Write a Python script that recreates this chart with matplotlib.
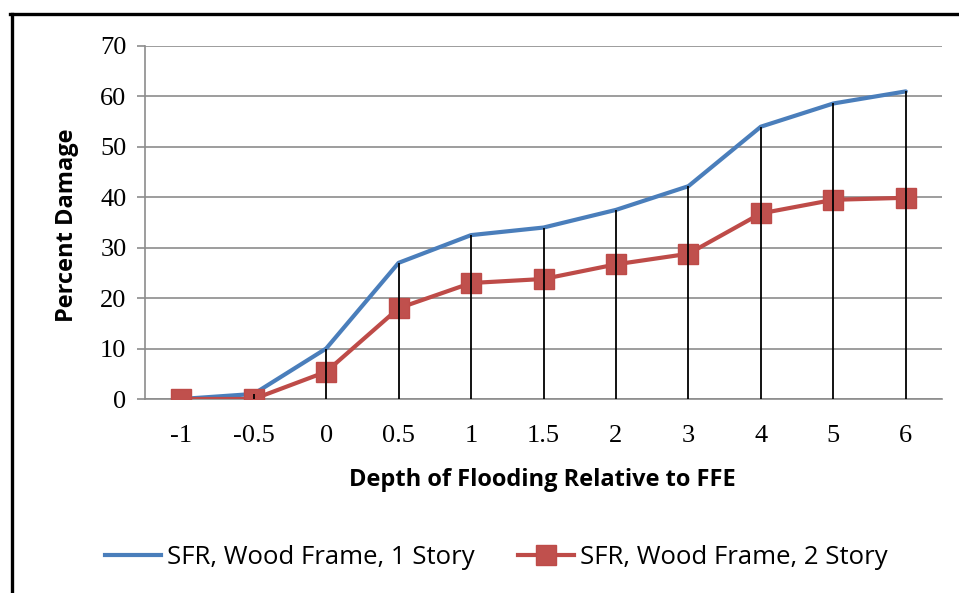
import matplotlib
matplotlib.use("Agg")
import matplotlib.pyplot as plt
from matplotlib.lines import Line2D
import numpy as np

categories = ["-1", "-0.5", "0", "0.5", "1", "1.5", "2", "3", "4", "5", "6"]
story1 = [0, 1, 10, 27, 32.5, 34, 37.5, 42.2, 54, 58.6, 61]
story2 = [0, 0, 5.4, 18, 23, 23.8, 26.7, 28.8, 36.8, 39.5, 39.9]
series_names = ["SFR, Wood Frame, 1 Story", "SFR, Wood Frame, 2 Story"]
yticks = [0, 10, 20, 30, 40, 50, 60, 70]

W, H = 959, 593
fig = plt.figure(figsize=(W / 100, H / 100), dpi=100)
ax = fig.add_axes([145 / W, 1 - 399 / H, (942 - 145) / W, (399 - 46) / H])

x = np.arange(len(categories))
ax.plot(x, story1, color="#4a7ebb", lw=3, solid_capstyle="round", zorder=3)
ax.plot(x, story2, color="#be4b48", lw=3, marker="s", ms=14.5, mec="#be4b48",
        mfc="#c0504d", zorder=3)
ax.vlines(x, 0, np.maximum(story1, story2), colors="black", lw=1.3, zorder=4)

ax.set_xlim(-0.5, len(categories) - 0.5)
ax.set_ylim(0, 70)
ax.set_yticks(yticks)
ax.set_xticks(x)
ax.set_xticklabels(categories)
ax.grid(axis="y", color="#8c8c8c", lw=1.2, zorder=0)
ax.set_axisbelow(True)
for s in ["top", "right"]:
    ax.spines[s].set_visible(False)
ax.spines["left"].set_color("#8c8c8c")
ax.spines["bottom"].set_color("#8c8c8c")
ax.spines["left"].set_linewidth(1.2)
ax.spines["bottom"].set_linewidth(1.2)
ax.tick_params(axis="y", length=5.8, color="#8c8c8c", width=1.2, pad=7.5)
ax.tick_params(axis="x", length=0, pad=19)
for lab in ax.get_yticklabels() + ax.get_xticklabels():
    lab.set_fontfamily("Liberation Serif")
    lab.set_fontsize(19)

fig.text(67 / W, 1 - 225 / H, "Percent Damage", rotation=90, ha="center", va="center",
         fontsize=17, fontweight="bold", family="Open Sans")
fig.text(542 / W, 1 - 480 / H, "Depth of Flooding Relative to FFE", ha="center", va="center",
         fontsize=17, fontweight="bold", family="Open Sans")

handles = [Line2D([], [], color="#4a7ebb", lw=3),
           Line2D([], [], color="#be4b48", lw=3, marker="s", ms=14.5, mfc="#c0504d", mec="#be4b48")]
fig.legend(handles, series_names, loc="center", bbox_to_anchor=(496 / W, 1 - 557 / H),
           ncol=2, frameon=False, prop={"family": "Open Sans", "size": 18.5},
           handlelength=2.2, handletextpad=0.2, columnspacing=1.7)

# outer border (top and left visible)
fig.add_artist(plt.Line2D([11.5 / W, 11.5 / W], [0, 1 - 13.5 / H], transform=fig.transFigure,
                          color="black", lw=2.4))
fig.add_artist(plt.Line2D([10.3 / W, 1], [1 - 13.5 / H, 1 - 13.5 / H], transform=fig.transFigure,
                          color="black", lw=2.4))

fig.savefig("out.png", dpi=100)
